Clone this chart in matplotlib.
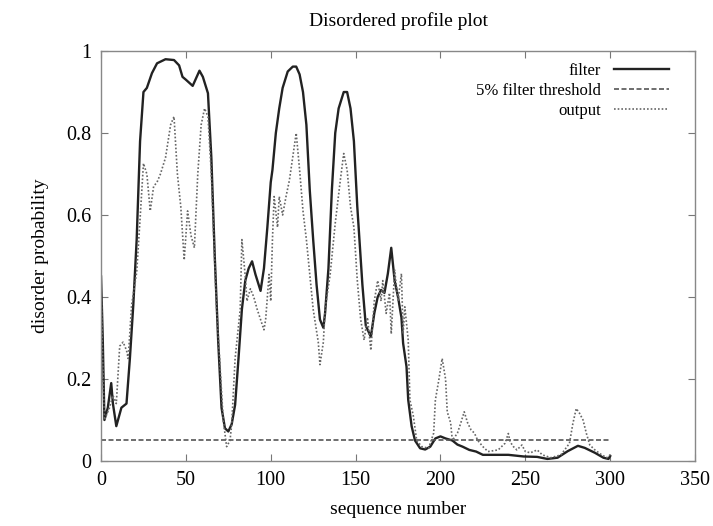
import numpy as np
import matplotlib
matplotlib.use("Agg")
import matplotlib.pyplot as plt

# filter curve (solid)
filter_x = [0, 1, 2, 4, 6, 7, 9, 12, 15, 17, 19, 21, 23, 25, 27, 30, 33, 38, 43,
            46, 48, 50, 54, 58, 60, 63, 65, 67, 69, 71, 73, 75, 77, 79, 81, 83,
            85, 87, 89, 91, 94, 96, 98, 100, 101, 103, 105, 107, 110, 113, 115,
            117, 119, 121, 123, 125, 127, 129, 131, 132, 134, 136, 138, 140,
            143, 145, 147, 149, 151, 154, 156, 159, 161, 163, 165, 167, 169,
            171, 173, 175, 177, 178, 180, 181, 183, 185, 188, 191, 194, 197,
            200, 203, 207, 210, 213, 217, 221, 225, 232, 240, 249, 257, 263,
            269, 275, 281, 285, 291, 296, 299, 300]
filter_y = [0.45, 0.30, 0.10, 0.13, 0.19, 0.14, 0.085, 0.13, 0.14, 0.25, 0.38,
            0.54, 0.78, 0.90, 0.91, 0.946, 0.97, 0.98, 0.978, 0.965, 0.937,
            0.93, 0.915, 0.952, 0.937, 0.897, 0.74, 0.50, 0.295, 0.13, 0.08,
            0.072, 0.09, 0.137, 0.25, 0.37, 0.44, 0.47, 0.487, 0.455, 0.415,
            0.47, 0.57, 0.68, 0.71, 0.80, 0.86, 0.91, 0.95, 0.962, 0.962,
            0.943, 0.90, 0.82, 0.66, 0.54, 0.43, 0.345, 0.325, 0.36, 0.47,
            0.66, 0.80, 0.86, 0.90, 0.90, 0.86, 0.78, 0.62, 0.43, 0.33, 0.303,
            0.36, 0.40, 0.417, 0.41, 0.457, 0.52, 0.44, 0.40, 0.35, 0.287,
            0.23, 0.149, 0.085, 0.05, 0.031, 0.028, 0.035, 0.055, 0.06, 0.055,
            0.05, 0.04, 0.035, 0.027, 0.023, 0.015, 0.015, 0.015, 0.011, 0.01,
            0.005, 0.008, 0.024, 0.037, 0.032, 0.02, 0.008, 0.005, 0.012]

# predictor output (dotted)
output_x = [0, 1, 2, 5, 7, 9, 11, 13, 15, 16, 18, 21, 23, 25, 27, 29, 31, 33,
            35, 38, 41, 43, 45, 47, 49, 51, 53, 55, 57, 59, 61, 63, 65, 68, 72,
            74, 76, 77, 79, 82, 83, 85, 86, 88, 90, 92, 94, 96, 97, 99, 100,
            101, 102, 104, 105, 107, 109, 111, 114, 115, 117, 119, 121, 123,
            125, 128, 129, 131, 132, 135, 138, 141, 143, 145, 147, 149, 151,
            153, 155, 157, 159, 161, 163, 165, 166, 168, 170, 171, 173, 175,
            177, 178, 179, 181, 182, 184, 186, 189, 193, 196, 197, 199, 201,
            203, 204, 206, 207, 210, 212, 214, 216, 218, 220, 222, 225, 228,
            234, 238, 240, 241, 243, 245, 248, 250, 253, 257, 260, 265, 271,
            276, 278, 280, 282, 284, 286, 288, 291, 295, 298, 300]
output_y = [0.42, 0.25, 0.10, 0.13, 0.16, 0.14, 0.28, 0.29, 0.27, 0.25, 0.38,
            0.46, 0.59, 0.726, 0.70, 0.61, 0.67, 0.68, 0.70, 0.74, 0.82, 0.84,
            0.70, 0.62, 0.49, 0.61, 0.55, 0.52, 0.70, 0.82, 0.86, 0.84, 0.70,
            0.38, 0.10, 0.035, 0.05, 0.09, 0.25, 0.37, 0.54, 0.45, 0.39, 0.42,
            0.40, 0.37, 0.345, 0.32, 0.345, 0.455, 0.39, 0.54, 0.645, 0.57,
            0.645, 0.60, 0.645, 0.685, 0.77, 0.80, 0.71, 0.61, 0.54, 0.455,
            0.37, 0.29, 0.235, 0.29, 0.37, 0.455, 0.58, 0.685, 0.75, 0.71,
            0.62, 0.57, 0.44, 0.345, 0.295, 0.35, 0.27, 0.39, 0.44, 0.39, 0.44,
            0.36, 0.41, 0.31, 0.466, 0.39, 0.457, 0.31, 0.376, 0.295, 0.149,
            0.11, 0.05, 0.035, 0.031, 0.068, 0.149, 0.197, 0.25, 0.20, 0.12,
            0.093, 0.05, 0.068, 0.093, 0.12, 0.093, 0.076, 0.068, 0.05, 0.035,
            0.023, 0.027, 0.043, 0.067, 0.047, 0.035, 0.027, 0.039, 0.023,
            0.02, 0.027, 0.015, 0.008, 0.015, 0.043, 0.091, 0.128, 0.116, 0.10,
            0.067, 0.039, 0.027, 0.015, 0.008, 0.015]

# 5% threshold
threshold_x = [0, 300]
threshold_y = [0.05, 0.05]

x_ticks = [0, 50, 100, 150, 200, 250, 300, 350]
y_ticks = [0, 0.2, 0.4, 0.6, 0.8, 1]
y_tick_labels = ["0", "0.2", "0.4", "0.6", "0.8", "1"]

plt.rcParams["font.family"] = ["Liberation Serif", "DejaVu Serif"]

fig = plt.figure(figsize=(7.13, 5.26), dpi=100)
ax = fig.add_axes([0.1417, 0.1236, 0.8331, 0.7794])

ax.plot(filter_x, filter_y, color="#222222", lw=1.7, ls="-", label="filter")
ax.plot(threshold_x, threshold_y, color="#555555", lw=1.2, ls=(0, (3, 1.5)),
        label="5% filter threshold")
ax.plot(output_x, output_y, color="#666666", lw=1.2, ls=(0, (1, 1.2)),
        label="output")

ax.set_xlim(0, 350)
ax.set_ylim(0, 1)
ax.set_xticks(x_ticks)
ax.set_yticks(y_ticks)
ax.set_yticklabels(y_tick_labels)
ax.tick_params(direction="in", length=5, width=0.8, color="#777777",
               top=True, right=True, labelsize=14.5, pad=7)
for sp in ax.spines.values():
    sp.set_color("#888888")
    sp.set_linewidth(1.0)

ax.set_title("Disordered profile plot", fontsize=14, pad=18)
ax.set_xlabel("sequence number", fontsize=14, labelpad=8)
ax.set_ylabel("disorder probability", fontsize=14, labelpad=12)

ax.legend(loc="upper right", frameon=False, markerfirst=False, fontsize=12,
          handlelength=3.3, handletextpad=0.75, labelspacing=0.25,
          borderaxespad=0.3, bbox_to_anchor=(0.975, 1.0))

fig.savefig("out.png", dpi=100)
